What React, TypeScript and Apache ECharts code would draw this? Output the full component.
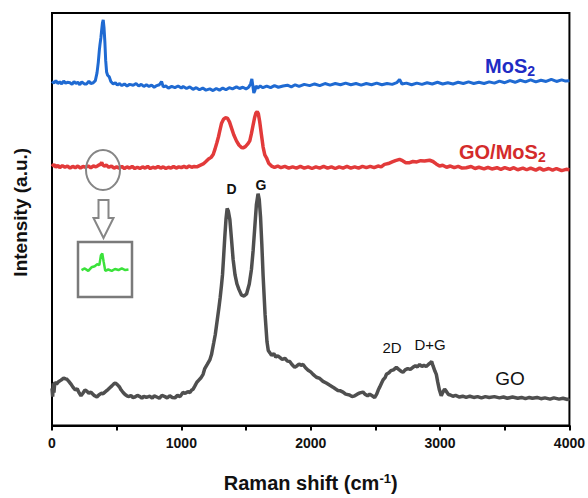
import React, { useEffect, useRef } from "react";
import * as echarts from "echarts";

// Raman shift (cm-1), intensity (a.u., arbitrary 0-100 scale with vertical offsets)
const goData: [number, number][] = [
  [0,9.0],[5,7.0],[10,10.2],[15,8.0],[22,10.5],[35,10.0],[50,10.6],[70,11.0],[90,11.5],[105,11.3],[116,11.2],[130,10.7],[145,10.1],[162,9.3],[180,8.6],[195,8.9],[210,7.9],[224,7.2],[240,7.9],[255,8.6],[270,8.3],[285,7.8],[301,8.1],[315,7.6],[330,7.2],[347,6.9],[362,7.4],[380,7.8],[395,7.7],[409,8.1],[425,8.5],[445,9.1],[463,9.6],[478,10.1],[490,10.3],[505,9.9],[520,9.4],[535,8.6],[550,8.0],[565,7.5],[579,7.2],[595,7.0],[610,7.3],[625,6.8],[641,6.9],[660,7.3],[680,7.0],[695,6.6],[710,7.1],[730,6.8],[757,7.1],[775,6.6],[790,7.2],[810,6.9],[830,6.6],[850,7.3],[873,7.0],[890,6.7],[910,7.2],[930,6.8],[950,6.7],[970,7.3],[990,7.0],[1012,8.0],[1030,7.8],[1050,8.2],[1066,8.0],[1080,8.6],[1091,8.8],[1105,9.6],[1120,10.5],[1135,11.0],[1150,11.5],[1168,12.4],[1181,13.8],[1200,14.8],[1220,15.9],[1233,17.2],[1250,20.0],[1262,22.0],[1272,24.3],[1290,28.5],[1300,31.0],[1310,33.9],[1318,36.5],[1325,40.0],[1336,45.8],[1345,50.0],[1354,52.6],[1363,52.0],[1375,49.9],[1388,45.0],[1400,40.3],[1415,36.5],[1430,34.3],[1445,33.0],[1465,31.6],[1485,31.4],[1504,31.9],[1525,34.3],[1542,37.9],[1555,42.5],[1568,48.2],[1580,53.5],[1593,56.2],[1602,54.8],[1612,50.6],[1622,44.0],[1632,36.3],[1647,27.0],[1662,20.3],[1672,18.2],[1685,17.6],[1697,17.0],[1715,17.4],[1730,16.6],[1745,16.9],[1761,16.5],[1780,16.0],[1800,16.3],[1820,15.6],[1838,15.5],[1855,14.8],[1876,14.1],[1895,14.5],[1910,14.9],[1925,14.6],[1941,14.8],[1960,14.0],[1980,13.4],[2000,13.0],[2018,12.4],[2044,11.7],[2070,11.4],[2095,10.7],[2120,10.3],[2145,9.8],[2172,9.3],[2190,8.9],[2210,8.5],[2230,8.4],[2250,8.1],[2270,7.6],[2300,7.4],[2320,7.0],[2340,7.2],[2360,7.6],[2380,7.9],[2404,8.1],[2420,7.6],[2440,7.2],[2456,7.6],[2475,7.2],[2494,6.8],[2510,7.6],[2522,8.6],[2533,9.3],[2548,10.3],[2560,11.1],[2575,11.6],[2585,12.4],[2605,12.8],[2620,13.3],[2640,13.5],[2662,14.1],[2680,13.6],[2700,13.1],[2713,12.9],[2730,13.5],[2750,13.8],[2770,13.6],[2790,14.1],[2810,14.5],[2825,14.2],[2842,14.8],[2860,14.3],[2875,14.6],[2893,14.3],[2910,14.8],[2925,15.2],[2935,15.5],[2945,14.5],[2960,13.2],[2971,12.4],[2982,10.5],[2995,8.6],[3009,7.2],[3020,8.0],[3035,8.8],[3050,8.2],[3065,7.5],[3080,7.4],[3099,7.1],[3120,7.3],[3150,6.9],[3175,7.1],[3202,6.8],[3230,7.1],[3260,6.8],[3290,7.0],[3320,6.7],[3350,7.0],[3380,6.8],[3420,7.0],[3459,6.7],[3490,6.9],[3520,6.6],[3560,6.9],[3600,6.6],[3630,6.8],[3660,6.5],[3690,6.8],[3714,6.6],[3750,6.8],[3780,6.5],[3810,6.7],[3850,6.4],[3880,6.7],[3920,6.4],[3950,6.6],[3985,6.3],[4000,6.5]
];

const goMos2Data: [number, number][] = [
  [0,62.8],[15,63.3],[30,62.6],[45,63.1],[60,62.5],[80,63.0],[100,62.6],[120,62.9],[140,62.4],[160,62.8],[180,62.5],[200,62.9],[220,62.4],[240,62.8],[260,62.6],[280,62.9],[300,62.5],[320,62.9],[340,62.7],[360,63.1],[375,63.3],[384,63.8],[392,63.2],[405,62.9],[420,63.1],[440,62.6],[460,62.9],[480,62.4],[500,62.7],[520,62.4],[540,62.8],[560,62.3],[580,62.7],[600,62.4],[620,62.8],[640,62.3],[660,62.6],[680,62.3],[700,62.7],[720,62.4],[740,62.8],[760,62.3],[780,62.6],[800,62.4],[820,62.8],[840,62.4],[860,62.7],[880,62.3],[900,62.6],[920,62.4],[940,62.8],[960,62.4],[980,62.7],[1000,62.5],[1020,62.8],[1040,62.5],[1060,62.9],[1080,62.6],[1100,62.8],[1120,62.7],[1140,63.0],[1169,63.4],[1190,64.0],[1210,64.6],[1230,65.0],[1246,65.7],[1260,67.0],[1275,68.6],[1287,70.0],[1297,71.4],[1310,73.2],[1325,74.2],[1340,74.6],[1356,74.5],[1372,73.6],[1388,72.1],[1405,70.5],[1426,69.0],[1445,68.0],[1465,67.4],[1477,67.3],[1495,67.6],[1512,68.2],[1529,69.0],[1542,70.8],[1555,72.9],[1566,74.6],[1577,75.8],[1586,76.1],[1595,75.6],[1605,73.8],[1619,70.5],[1632,67.5],[1645,65.6],[1658,64.9],[1675,63.6],[1697,62.9],[1720,62.6],[1745,62.9],[1770,62.5],[1800,62.8],[1830,62.4],[1860,62.7],[1890,62.4],[1920,62.8],[1950,62.4],[1980,62.7],[2010,62.3],[2040,62.7],[2070,62.4],[2100,62.8],[2130,62.4],[2160,62.7],[2190,62.3],[2220,62.7],[2250,62.4],[2280,62.8],[2310,62.4],[2340,62.7],[2370,62.4],[2400,62.8],[2430,62.5],[2460,62.8],[2490,62.5],[2520,62.9],[2545,62.7],[2570,63.3],[2600,63.5],[2630,63.9],[2655,64.2],[2687,64.5],[2710,64.2],[2735,63.7],[2765,63.7],[2790,64.0],[2820,63.9],[2850,64.2],[2880,64.1],[2919,64.3],[2945,64.0],[2970,63.4],[2996,62.9],[3020,63.1],[3050,62.6],[3080,62.9],[3110,62.5],[3140,62.8],[3170,62.4],[3202,62.5],[3240,62.8],[3270,62.3],[3300,62.6],[3340,62.2],[3370,62.6],[3400,62.2],[3440,62.5],[3470,62.1],[3500,62.5],[3540,62.1],[3570,62.5],[3600,62.0],[3640,62.4],[3670,62.0],[3700,62.4],[3740,61.9],[3770,62.4],[3800,61.9],[3840,62.3],[3870,61.9],[3900,62.3],[3940,61.8],[3975,62.1],[4000,62.0]
];

const mos2Data: [number, number][] = [
  [0,83.4],[15,83.0],[30,83.6],[45,82.9],[60,83.3],[75,82.8],[90,83.5],[105,83.0],[120,83.2],[139,83.1],[155,82.7],[170,83.4],[185,82.9],[200,83.2],[215,82.6],[230,83.3],[250,82.8],[268,82.8],[285,83.5],[300,82.9],[319,83.1],[335,83.6],[348,85.5],[358,88.1],[366,91.0],[371,92.4],[378,94.0],[384,95.9],[390,97.6],[396,98.3],[402,96.5],[409,92.8],[415,88.5],[422,85.7],[430,84.9],[443,84.5],[455,83.4],[473,82.8],[490,83.1],[505,82.5],[520,82.9],[540,82.4],[560,82.8],[580,82.3],[600,82.7],[628,82.5],[650,82.9],[670,82.3],[690,82.7],[710,82.2],[730,82.6],[750,82.2],[770,82.5],[790,82.0],[810,82.4],[830,82.6],[847,83.4],[860,82.1],[880,82.3],[900,81.8],[925,82.2],[950,81.9],[975,82.3],[1000,81.8],[1014,82.2],[1040,81.7],[1065,82.1],[1090,81.5],[1115,81.9],[1140,81.4],[1165,81.8],[1190,81.3],[1220,81.6],[1245,81.2],[1270,81.7],[1295,81.3],[1320,81.8],[1345,81.4],[1370,81.9],[1395,81.6],[1426,82.1],[1450,81.7],[1475,82.0],[1500,81.6],[1520,82.0],[1535,82.8],[1545,84.0],[1552,82.5],[1560,80.6],[1568,81.2],[1578,82.3],[1590,81.8],[1610,82.3],[1630,81.9],[1660,82.3],[1690,81.9],[1720,82.4],[1750,82.0],[1786,82.3],[1820,82.5],[1850,82.1],[1880,82.6],[1910,82.2],[1950,82.7],[1992,82.4],[2030,82.8],[2070,82.4],[2110,82.9],[2150,82.5],[2190,82.9],[2230,82.6],[2270,83.0],[2310,82.6],[2350,82.9],[2390,82.5],[2430,82.9],[2470,82.6],[2510,83.0],[2550,82.6],[2590,82.9],[2630,82.7],[2665,83.1],[2687,83.9],[2705,82.8],[2740,83.0],[2780,82.6],[2820,83.0],[2860,82.7],[2900,83.1],[2940,82.8],[2980,83.2],[3020,82.8],[3060,83.1],[3100,82.8],[3140,83.2],[3180,82.9],[3220,83.3],[3260,82.9],[3300,83.2],[3340,82.9],[3380,83.3],[3420,83.0],[3459,83.5],[3500,83.1],[3540,83.6],[3580,83.2],[3620,83.7],[3660,83.3],[3700,83.8],[3740,83.3],[3780,83.7],[3820,83.4],[3860,83.9],[3900,83.4],[3940,83.8],[3970,83.5],[4000,83.6]
];

// Zoomed inset (GO/MoS2 around the MoS2 band)
const insetData: [number, number][] = [
  [303,4.9],[315,5.2],[328,4.75],[340,5.4],[352,5.6],[361,5.95],[369,5.8],[375,7.6],[380,7.9],[385,6.4],[391,4.75],[402,5.0],[415,4.75],[427,5.1],[440,4.9],[452,5.2],[465,4.9],[477,5.0]
];

const xTicks = { min: 0, max: 4000, interval: 1000 };

const FONT = "'Liberation Sans', Arial, Helvetica, sans-serif";

export default function App() {
  const ref = useRef<HTMLDivElement>(null);
  useEffect(() => {
    if (!ref.current) return;
    const chart = echarts.init(ref.current, undefined, { renderer: "svg" });
    const label = (x: number, y: number, text: string, opts: any = {}) => ({
      type: "text",
      x,
      y,
      z: 100,
      style: {
        text,
        fontFamily: FONT,
        fontSize: 14,
        fontWeight: "bold",
        fill: "#111",
        align: "center",
        verticalAlign: "middle",
        ...opts,
      },
    });
    chart.setOption({
      animation: false,
      backgroundColor: "#fff",
      grid: [
        { left: 52, right: 18, top: 13, bottom: 66, show: true, borderColor: "#000", borderWidth: 2 },
        { left: 78, top: 242, width: 54, height: 55, show: true, borderColor: "#7a7a7a", borderWidth: 2.5, z: 20 },
      ],
      xAxis: [
        {
          type: "value",
          gridIndex: 0,
          min: xTicks.min,
          max: xTicks.max,
          interval: xTicks.interval,
          name: "Raman shift (cm{sup|-1})",
          nameLocation: "middle",
          nameGap: 46,
          nameTextStyle: {
            fontFamily: FONT,
            fontSize: 20,
            fontWeight: "bold",
            color: "#111",
            rich: { sup: { fontSize: 13, fontWeight: "bold", color: "#111", fontFamily: FONT, padding: [0, 0, 10, 0] } },
          },
          axisLine: { show: true, lineStyle: { color: "#000", width: 2 } },
          axisTick: { show: true, inside: false, length: 5, lineStyle: { color: "#000", width: 2 } },
          minorTick: { show: true, splitNumber: 2, length: 5, lineStyle: { color: "#000", width: 2 } },
          axisLabel: {
            fontFamily: FONT,
            fontSize: 14,
            fontWeight: "bold",
            color: "#111",
            margin: 10,
            formatter: (v: number) => String(v),
          },
          splitLine: { show: false },
        },
        { type: "value", gridIndex: 1, min: 290, max: 490, show: false, splitLine: { show: false } },
      ],
      yAxis: [
        {
          type: "value",
          gridIndex: 0,
          min: 0,
          max: 100,
          name: "Intensity (a.u.)",
          nameLocation: "middle",
          nameRotate: 90,
          nameGap: 22,
          nameTextStyle: { fontFamily: FONT, fontSize: 19, fontWeight: "bold", color: "#111", padding: [0, 0, 0, 14] },
          axisLine: { show: true, lineStyle: { color: "#000", width: 2 } },
          axisTick: { show: false },
          axisLabel: { show: false },
          splitLine: { show: false },
        },
        { type: "value", gridIndex: 1, min: 0, max: 10, show: false, splitLine: { show: false } },
      ],
      series: [
        {
          name: "GO",
          type: "line",
          data: goData,
          showSymbol: false,
          lineStyle: { color: "#4f4f4f", width: 3.5 },
          z: 3,
        },
        {
          name: "GO/MoS2",
          type: "line",
          data: goMos2Data,
          showSymbol: false,
          lineStyle: { color: "#e23a3a", width: 3.5 },
          z: 3,
        },
        {
          name: "MoS2",
          type: "line",
          data: mos2Data,
          showSymbol: false,
          lineStyle: { color: "#1f6ad2", width: 3 },
          z: 3,
        },
        {
          name: "inset",
          type: "line",
          xAxisIndex: 1,
          yAxisIndex: 1,
          data: insetData,
          showSymbol: false,
          lineStyle: { color: "#3be23b", width: 2.5 },
          z: 30,
        },
      ],
      graphic: [
        {
          type: "ellipse",
          z: 100,
          shape: { cx: 103, cy: 170, rx: 17, ry: 20 },
          style: { fill: "none", stroke: "#868686", lineWidth: 2 },
        },
        {
          type: "polygon",
          z: 100,
          shape: {
            points: [
              [98.5, 200], [108.5, 200], [108.5, 218], [113.5, 218], [103.5, 238], [93.5, 218], [98.5, 218],
            ],
          },
          style: { fill: "#fff", stroke: "#868686", lineWidth: 2 },
        },
        label(485, 66, "MoS{sub|2}", {
          fontSize: 20,
          fill: "#1e2bc4",
          align: "left",
          rich: { sub: { fontSize: 14, fontWeight: "bold", fill: "#1e2bc4", fontFamily: FONT, padding: [10, 0, 0, 0] } },
        }),
        label(459, 152, "GO/MoS{sub|2}", {
          fontSize: 20,
          fill: "#d42b2b",
          align: "left",
          rich: { sub: { fontSize: 14, fontWeight: "bold", fill: "#d42b2b", fontFamily: FONT, padding: [10, 0, 0, 0] } },
        }),
        label(231.5, 189, "D"),
        label(261, 185, "G"),
        label(392, 347, "2D", { fontWeight: "normal", fontSize: 15 }),
        label(430, 344, "D+G", { fontWeight: "normal", fontSize: 15 }),
        label(510, 378, "GO", { fontWeight: "normal", fontSize: 19 }),
      ],
    });
    return () => chart.dispose();
  }, []);
  return (
    <div
      ref={ref}
      style={{ position: "fixed", left: 0, top: 0, width: 588, height: 498, background: "#fff" }}
    />
  );
}
